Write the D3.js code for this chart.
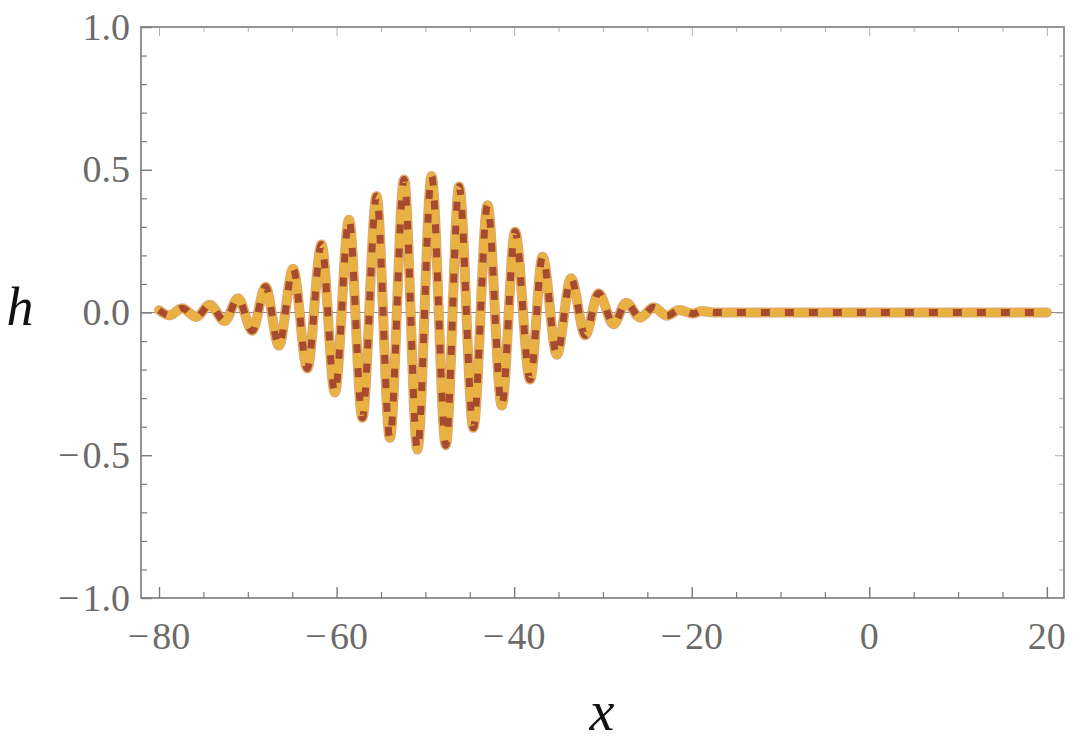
<!DOCTYPE html>
<html>
<head>
<meta charset="utf-8">
<script src="https://cdn.jsdelivr.net/npm/d3@7"></script>
<style>
  html, body { margin: 0; padding: 0; background: #fff; }
  svg { display: block; }
  .lbl { font-family: "Liberation Serif", "DejaVu Serif", "Times New Roman", serif; }
</style>
</head>
<body>
<svg id="chart" width="1080" height="756"></svg>
<script>
// ---- data (extrema of the wave packet) ----
const xValues = [-80.0, -78.8, -77.4, -75.8, -74.3, -72.6, -71.1, -69.5, -68.0, -66.5,
  -64.9, -63.3, -61.7, -60.2, -58.6, -57.1, -55.5, -54.0, -52.4, -50.9,
  -49.3, -47.7, -46.2, -44.6, -43.0, -41.4, -39.9, -38.2, -36.8, -35.2,
  -33.6, -32.0, -30.5, -28.8, -27.4, -25.8, -24.3, -22.8, -21.4, -19.8,
  -18.9, -17.5, 20.0];
const hValues = [0.008, -0.010, 0.015, -0.016, 0.027, -0.030, 0.050, -0.064, 0.090, -0.116,
  0.153, -0.196, 0.238, -0.280, 0.325, -0.369, 0.408, -0.439, 0.466, -0.480,
  0.478, -0.465, 0.441, -0.404, 0.376, -0.326, 0.283, -0.235, 0.195, -0.148,
  0.120, -0.080, 0.067, -0.041, 0.034, -0.018, 0.018, -0.011, 0.009, -0.004,
  0.005, 0.000, 0.000];
const xMajorTicks = [-80, -60, -40, -20, 0, 20];
const xMinorTicks = [-75, -70, -65, -55, -50, -45, -35, -30, -25, -15, -10, -5, 5, 10, 15];
const yMajorTicks = [-1.0, -0.5, 0.0, 0.5, 1.0];
const yMinorTicks = [-0.9, -0.8, -0.7, -0.6, -0.4, -0.3, -0.2, -0.1, 0.1, 0.2, 0.3, 0.4, 0.6, 0.7, 0.8, 0.9];
const xDomain = [-82.03, 21.93];
const yDomain = [-1, 1];

// ---- layout ----
const svg = d3.select("#chart");
const L = 141, R = 1064, T = 27, B = 598;
const x = d3.scaleLinear().domain(xDomain).range([L, R]);
const y = d3.scaleLinear().domain(yDomain).range([B, T]);

const frameColor = "#7a7a7a";
const labelColor = "#6b6b6b";

// zero axis line
svg.append("line")
  .attr("x1", L).attr("x2", R)
  .attr("y1", y(0)).attr("y2", y(0))
  .attr("stroke", "#8c8c8c").attr("stroke-width", 1);

// ---- curve ----
const pts = xValues.map((v, i) => [v, hValues[i]]);
const line = d3.line().x(d => x(d[0])).y(d => y(d[1])).curve(d3.curveMonotoneX);
const pathD = line(pts);

svg.append("path").attr("d", pathD)
  .attr("fill", "none").attr("stroke", "#c9865e").attr("stroke-opacity", 0.75)
  .attr("stroke-width", 10).attr("stroke-linejoin", "round").attr("stroke-linecap", "round");
svg.append("path").attr("d", pathD)
  .attr("fill", "none").attr("stroke", "#e8b142")
  .attr("stroke-width", 8.6).attr("stroke-linejoin", "round").attr("stroke-linecap", "round");
svg.append("path").attr("d", pathD)
  .attr("fill", "none").attr("stroke", "#a64b30")
  .attr("stroke-width", 7).attr("stroke-dasharray", "9,15")
  .attr("stroke-linejoin", "round");

// ---- frame ----
svg.append("rect")
  .attr("x", L).attr("y", T).attr("width", R - L).attr("height", B - T)
  .attr("fill", "none").attr("stroke", frameColor).attr("stroke-width", 1.6);

// ---- axes with inward ticks ----
function tickAxis(gen, ticks, size, transform, width, color) {
  const g = svg.append("g").attr("transform", transform)
    .call(gen.tickValues(ticks).tickSize(size).tickFormat(""));
  g.select(".domain").remove();
  g.selectAll(".tick line").attr("stroke", color).attr("stroke-width", width);
  return g;
}
// bottom
tickAxis(d3.axisTop(x), xMajorTicks, 11, `translate(0,${B})`, 1.4, frameColor);
tickAxis(d3.axisTop(x), xMinorTicks, 6, `translate(0,${B})`, 1.2, frameColor);
// top
tickAxis(d3.axisBottom(x), xMajorTicks, 9, `translate(0,${T})`, 0.8, "#9a9a9a");
tickAxis(d3.axisBottom(x), xMinorTicks, 5, `translate(0,${T})`, 0.8, "#9a9a9a");
// left
tickAxis(d3.axisRight(y), yMajorTicks, 11, `translate(${L},0)`, 1.4, frameColor);
tickAxis(d3.axisRight(y), yMinorTicks, 6, `translate(${L},0)`, 1.2, frameColor);
// right
tickAxis(d3.axisLeft(y), yMajorTicks, 9, `translate(${R},0)`, 0.8, "#9a9a9a");
tickAxis(d3.axisLeft(y), yMinorTicks, 5, `translate(${R},0)`, 0.8, "#9a9a9a");

const fmtY = d => (d < 0 ? "\u2212\u200A" : "") + Math.abs(d).toFixed(1);
const fmtX = d => (d < 0 ? "\u2212\u200A" : "") + Math.abs(d);

// tick labels
svg.append("g").selectAll("text").data(xMajorTicks).join("text")
  .attr("class", "lbl")
  .attr("x", d => x(d)).attr("y", 649)
  .attr("text-anchor", "middle")
  .attr("font-size", 38)
  .attr("fill", labelColor)
  .text(fmtX);
svg.append("g").selectAll("text").data(yMajorTicks).join("text")
  .attr("class", "lbl")
  .attr("x", 130).attr("y", d => y(d) + 12.5)
  .attr("text-anchor", "end")
  .attr("font-size", 38)
  .attr("fill", labelColor)
  .text(fmtY);

// axis titles
svg.append("text")
  .attr("class", "lbl")
  .attr("x", 20).attr("y", 325)
  .attr("text-anchor", "middle")
  .attr("font-style", "italic")
  .attr("font-size", 54).attr("fill", "#111")
  .text("h");
svg.append("text")
  .attr("class", "lbl")
  .attr("x", 602).attr("y", 730)
  .attr("text-anchor", "middle")
  .attr("font-style", "italic")
  .attr("font-size", 56).attr("fill", "#111")
  .text("x");
</script>
</body>
</html>
